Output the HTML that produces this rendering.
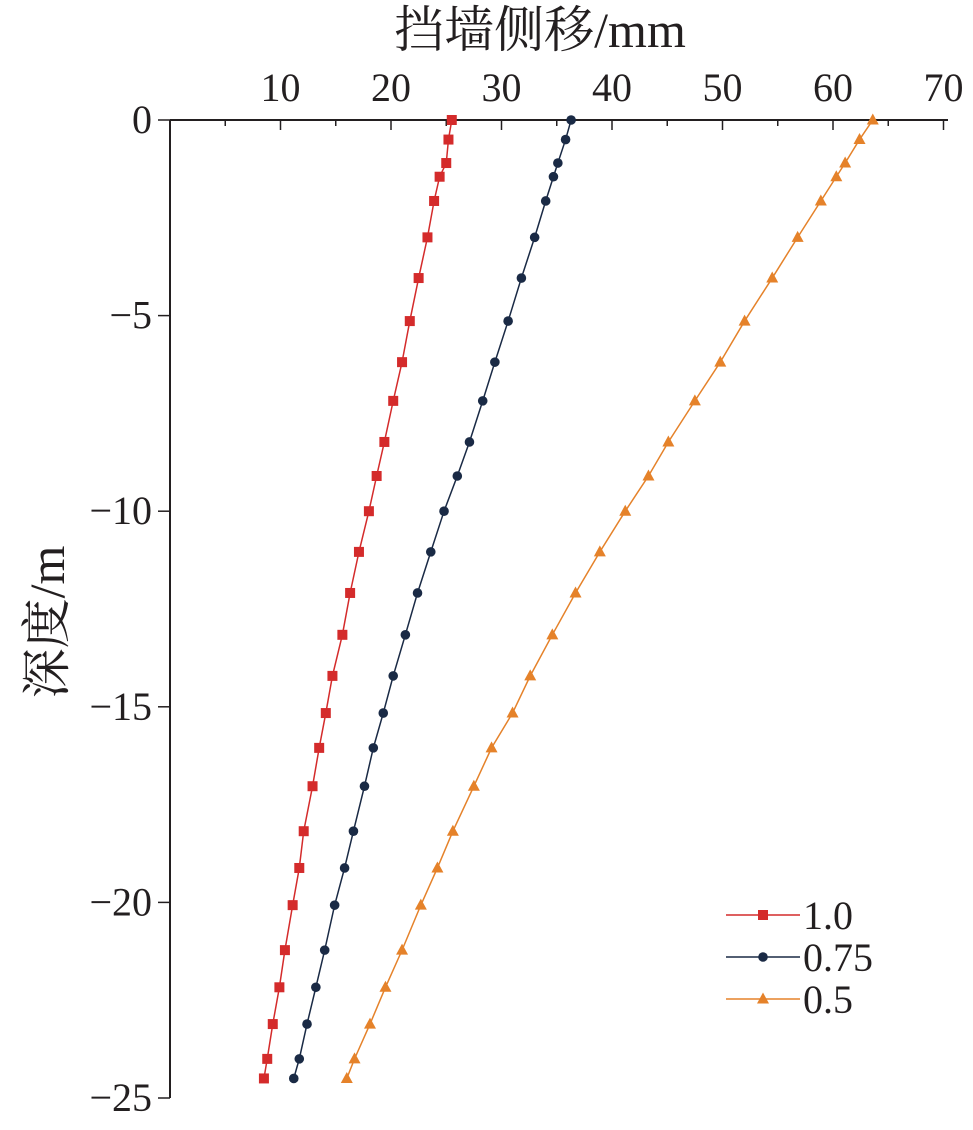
<!DOCTYPE html>
<html><head><meta charset="utf-8"><style>
body{margin:0;background:#fff}
svg text{font-family:"Liberation Serif","Noto Serif CJK SC",serif;fill:#231f20}
</style></head><body>
<svg id="chart" width="973" height="1125" viewBox="0 0 973 1125">
<g id="axes"></g>
<g id="series"></g>
<g id="legend"></g>
</svg>
<script>
const depths=[0,-0.5,-1.1,-1.45,-2.07,-3.0,-4.04,-5.14,-6.19,-7.18,-8.23,-9.1,-10.0,-11.04,-12.09,-13.16,-14.21,-15.16,-16.05,-17.03,-18.18,-19.12,-20.07,-21.22,-22.17,-23.11,-24.0,-24.5];
const s10=[25.5,25.2,25.0,24.4,23.9,23.3,22.5,21.7,21.0,20.2,19.4,18.7,18.0,17.1,16.3,15.6,14.7,14.1,13.5,12.9,12.1,11.7,11.1,10.4,9.9,9.3,8.8,8.5];
const s075=[36.3,35.8,35.1,34.7,34.0,33.0,31.8,30.6,29.4,28.3,27.1,26.0,24.8,23.6,22.4,21.3,20.2,19.3,18.4,17.6,16.6,15.8,14.9,14.0,13.2,12.4,11.7,11.2];
const s05=[63.6,62.4,61.1,60.3,58.9,56.8,54.5,52.0,49.8,47.5,45.1,43.3,41.2,38.9,36.7,34.6,32.6,31.0,29.1,27.5,25.6,24.2,22.7,21.0,19.5,18.1,16.7,16.0];
const seriesNames=["1.0","0.75","0.5"];
const xTicks=[10,20,30,40,50,60,70];
const yTicks=[0,-5,-10,-15,-20,-25];

const NS="http://www.w3.org/2000/svg";
const X0=170,XS=11.05,Y0=120,YS=39.12;
const xs=v=>X0+v*XS, ys=d=>Y0-d*YS;
function mk(tag,attrs,parent,text){const e=document.createElementNS(NS,tag);for(const k in attrs)e.setAttribute(k,attrs[k]);if(text!==undefined)e.textContent=text;parent.appendChild(e);return e;}
const axes=document.getElementById('axes'),ser=document.getElementById('series'),leg=document.getElementById('legend');
let e;
e=mk('line',{x1:X0,y1:Y0,x2:948,y2:Y0,stroke:'#231f20','stroke-width':2},axes);


e=mk('line',{x1:X0,y1:Y0,x2:X0,y2:ys(-25),stroke:'#231f20','stroke-width':2},axes);


for(let v=5;v<=70;v+=5){
 const major=v%10===0;
 e=mk('line',{x1:xs(v),y1:Y0,x2:xs(v),y2:Y0+(major?10:6),stroke:'#231f20','stroke-width':1.5},axes);
 
 
}
xTicks.forEach(v=>{
 e=mk('text',{x:xs(v),y:101,'text-anchor':'middle','font-size':40},axes,String(v));
 
 
});
yTicks.forEach(v=>{
 e=mk('line',{x1:X0-12,y1:ys(v),x2:X0,y2:ys(v),stroke:'#231f20','stroke-width':1.5},axes);
 
 
 e=mk('text',{x:152,y:ys(v)+13,'text-anchor':'end','font-size':40},axes,v===0?'0':'\u2212'+Math.abs(v));
 
 
});
e=mk('text',{x:540,y:47,'text-anchor':'middle','font-size':50},axes,'挡墙侧移/mm');


e=mk('text',{x:0,y:0,'text-anchor':'middle','font-size':50,transform:'translate(64,622) rotate(-90)'},axes,'深度/m');



const colors=['#d42b2b','#1a2a45','#e5822a'];
const shapes=['square','circle','triangle'];
function marker(shape,x,y,c,g){
 if(shape==='square')return mk('rect',{x:x-5,y:y-5,width:10,height:10,fill:c},g);
 if(shape==='circle')return mk('circle',{cx:x,cy:y,r:4.8,fill:c},g);
 return mk('polygon',{points:`${x},${y-6.5} ${x-6},${y+4.5} ${x+6},${y+4.5}`,fill:c},g);
}
[s10,s075,s05].forEach((arr,i)=>{
 const g=mk('g',{},ser);
 
 
 const pts=arr.map((v,j)=>xs(v)+','+ys(depths[j])).join(' ');
 e=mk('polyline',{points:pts,fill:'none',stroke:colors[i],'stroke-width':1.5},g);
 
 
 arr.forEach((v,j)=>{
  e=marker(shapes[i],xs(v),ys(depths[j]),colors[i],g);
  
  
 });
 const ly=915+i*42;
 const lg=mk('g',{},leg);
 
 
 mk('line',{x1:726,y1:ly,x2:800,y2:ly,stroke:colors[i],'stroke-width':1.5},lg);
 marker(shapes[i],763,ly,colors[i],lg);
 mk('text',{x:803,y:ly+14,'font-size':40},lg,seriesNames[i]);
});
</script>
</body></html>
